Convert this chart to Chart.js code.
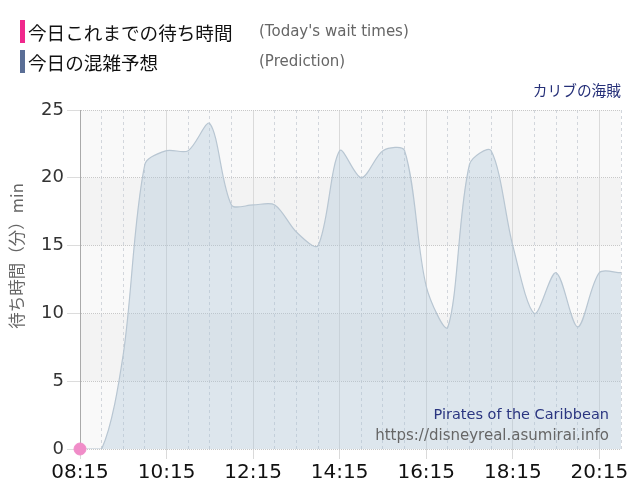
<!DOCTYPE html>
<html>
<head>
<meta charset="utf-8">
<script src="https://cdn.jsdelivr.net/npm/chart.js@4/dist/chart.umd.min.js"></script>
<style>
  body { margin: 0; background: #fff; font-family: "DejaVu Sans", "Noto Sans CJK JP", sans-serif; }
  #wrap { position: relative; width: 640px; height: 500px; }
  #chart { position: absolute; left: 0; top: 0; }
  .leg { position: absolute; left: 20px; height: 23px; line-height: 23px; }
  .leg .bar { position: absolute; left: 0; top: 0; width: 5px; height: 23px; }
  .leg .jp { position: absolute; left: 8px; top: 0; font-size: 18.6px; color: #111; white-space: nowrap; font-family: "Noto Sans CJK JP", sans-serif; }
  .leg .en { position: absolute; left: 239px; top: 0; font-size: 15px; color: #666; white-space: nowrap; }
</style>
</head>
<body>
<div id="wrap">
  <canvas id="chart" width="640" height="500"></canvas>
  <div class="leg" style="top:20px"><div class="bar" style="background:#f0288c"></div><span class="jp">今日これまでの待ち時間</span><span class="en">(Today's wait times)</span></div>
  <div class="leg" style="top:50px"><div class="bar" style="background:#5a6e96"></div><span class="jp">今日の混雑予想</span><span class="en">(Prediction)</span></div>
</div>
<script>
// time slots, every 30 min
const times = ['08:15','08:45','09:15','09:45','10:15','10:45','11:15','11:45','12:15','12:45',
  '13:15','13:45','14:15','14:45','15:15','15:45','16:15','16:45','17:15','17:45',
  '18:15','18:45','19:15','19:45','20:15','20:45'];
const predicted = [0,0,7,21,22,22,24,18,18,18,16,15,22,20,22,22,12,9,21,22,15,10,13,9,13,13];
const todayWait = [0];
const yTicks = [0,5,10,15,20,25];

const labelEvery = 4; // tick label every 2 hours

const bandPlugin = {
  id: 'bands',
  beforeDraw(chart) {
    const {ctx, chartArea: a, scales: {y}} = chart;
    ctx.save();
    for (let i = 0; i < yTicks.length - 1; i++) {
      const top = y.getPixelForValue(yTicks[i + 1]);
      const bot = y.getPixelForValue(yTicks[i]);
      ctx.fillStyle = i % 2 === 0 ? '#f9f9f9' : '#f3f3f3';
      ctx.fillRect(a.left, top, a.right - a.left, bot - top);
    }
    ctx.restore();
  }
};

const textPlugin = {
  id: 'texts',
  afterDraw(chart) {
    const {ctx, chartArea: a} = chart;
    ctx.save();
    ctx.textAlign = 'right';
    ctx.textBaseline = 'middle';
    ctx.font = '14.7px "Noto Sans CJK JP", sans-serif';
    ctx.fillStyle = '#252f78';
    ctx.fillText('カリブの海賊', a.right, a.top - 20);
    ctx.font = '14.5px "DejaVu Sans", sans-serif';
    ctx.fillStyle = '#2a3580';
    ctx.fillText('Pirates of the Caribbean', a.right - 12, a.bottom - 34);
    ctx.font = '15px "DejaVu Sans", sans-serif';
    ctx.fillStyle = '#666';
    ctx.fillText('https://disneyreal.asumirai.info', a.right - 12, a.bottom - 13);
    // y axis title
    ctx.translate(17, 256);
    ctx.rotate(-Math.PI / 2);
    ctx.textAlign = 'center';
    ctx.font = '16.5px "Noto Sans CJK JP", sans-serif';
    ctx.fillText('待ち時間（分）min', 0, 0);
    ctx.restore();
  }
};

new Chart(document.getElementById('chart'), {
  type: 'line',
  data: {
    labels: times,
    datasets: [
      {
        label: '今日これまでの待ち時間',
        data: todayWait,
        borderColor: 'rgba(240,140,200,1)',
        backgroundColor: 'rgba(240,140,200,1)',
        pointRadius: 6,
        showLine: false,
        clip: false
      },
      {
        label: '今日の混雑予想',
        data: predicted,
        borderColor: '#b8c6d2',
        borderWidth: 1.2,
        backgroundColor: 'rgba(170,195,215,0.35)',
        fill: 'origin',
        pointRadius: 0,
        tension: 0.3
      }
    ]
  },
  options: {
    responsive: false,
    animation: false,
    layout: { padding: { top: 110, right: 19, left: 0, bottom: 0 } },
    plugins: { legend: { display: false }, tooltip: { enabled: false } },
    scales: {
      x: {
        offset: false,
        afterFit: s => { s.height = 51; },
        ticks: {
          autoSkip: false,
          maxRotation: 0,
          color: '#111',
          font: { size: 20, family: '"DejaVu Sans", sans-serif' },
          padding: 2,
          callback: (v, i) => i % labelEvery === 0 ? times[i] : ''
        },
        grid: {
          color: c => c.index % labelEvery === 0 ? '#dadada' : '#d2d6dc',
          tickColor: c => c.index % labelEvery === 0 ? '#dadada' : 'rgba(0,0,0,0)',
          tickLength: 10
        },
        border: { display: false, dash: c => c.index % labelEvery === 0 ? [] : [3, 3] }
      },
      y: {
        min: 0,
        max: 25,
        afterFit: s => { s.width = 80; },
        afterBuildTicks: s => { s.ticks = yTicks.map(v => ({ value: v })); },
        ticks: {
          color: '#333',
          font: { size: 18, family: '"DejaVu Sans", sans-serif' },
          padding: 3
        },
        grid: { color: '#c8c8c8', tickColor: '#dcdcdc', tickLength: 13 },
        border: { color: '#aaa', dash: [1, 1] }
      }
    }
  },
  plugins: [bandPlugin, textPlugin]
});
</script>
</body>
</html>
